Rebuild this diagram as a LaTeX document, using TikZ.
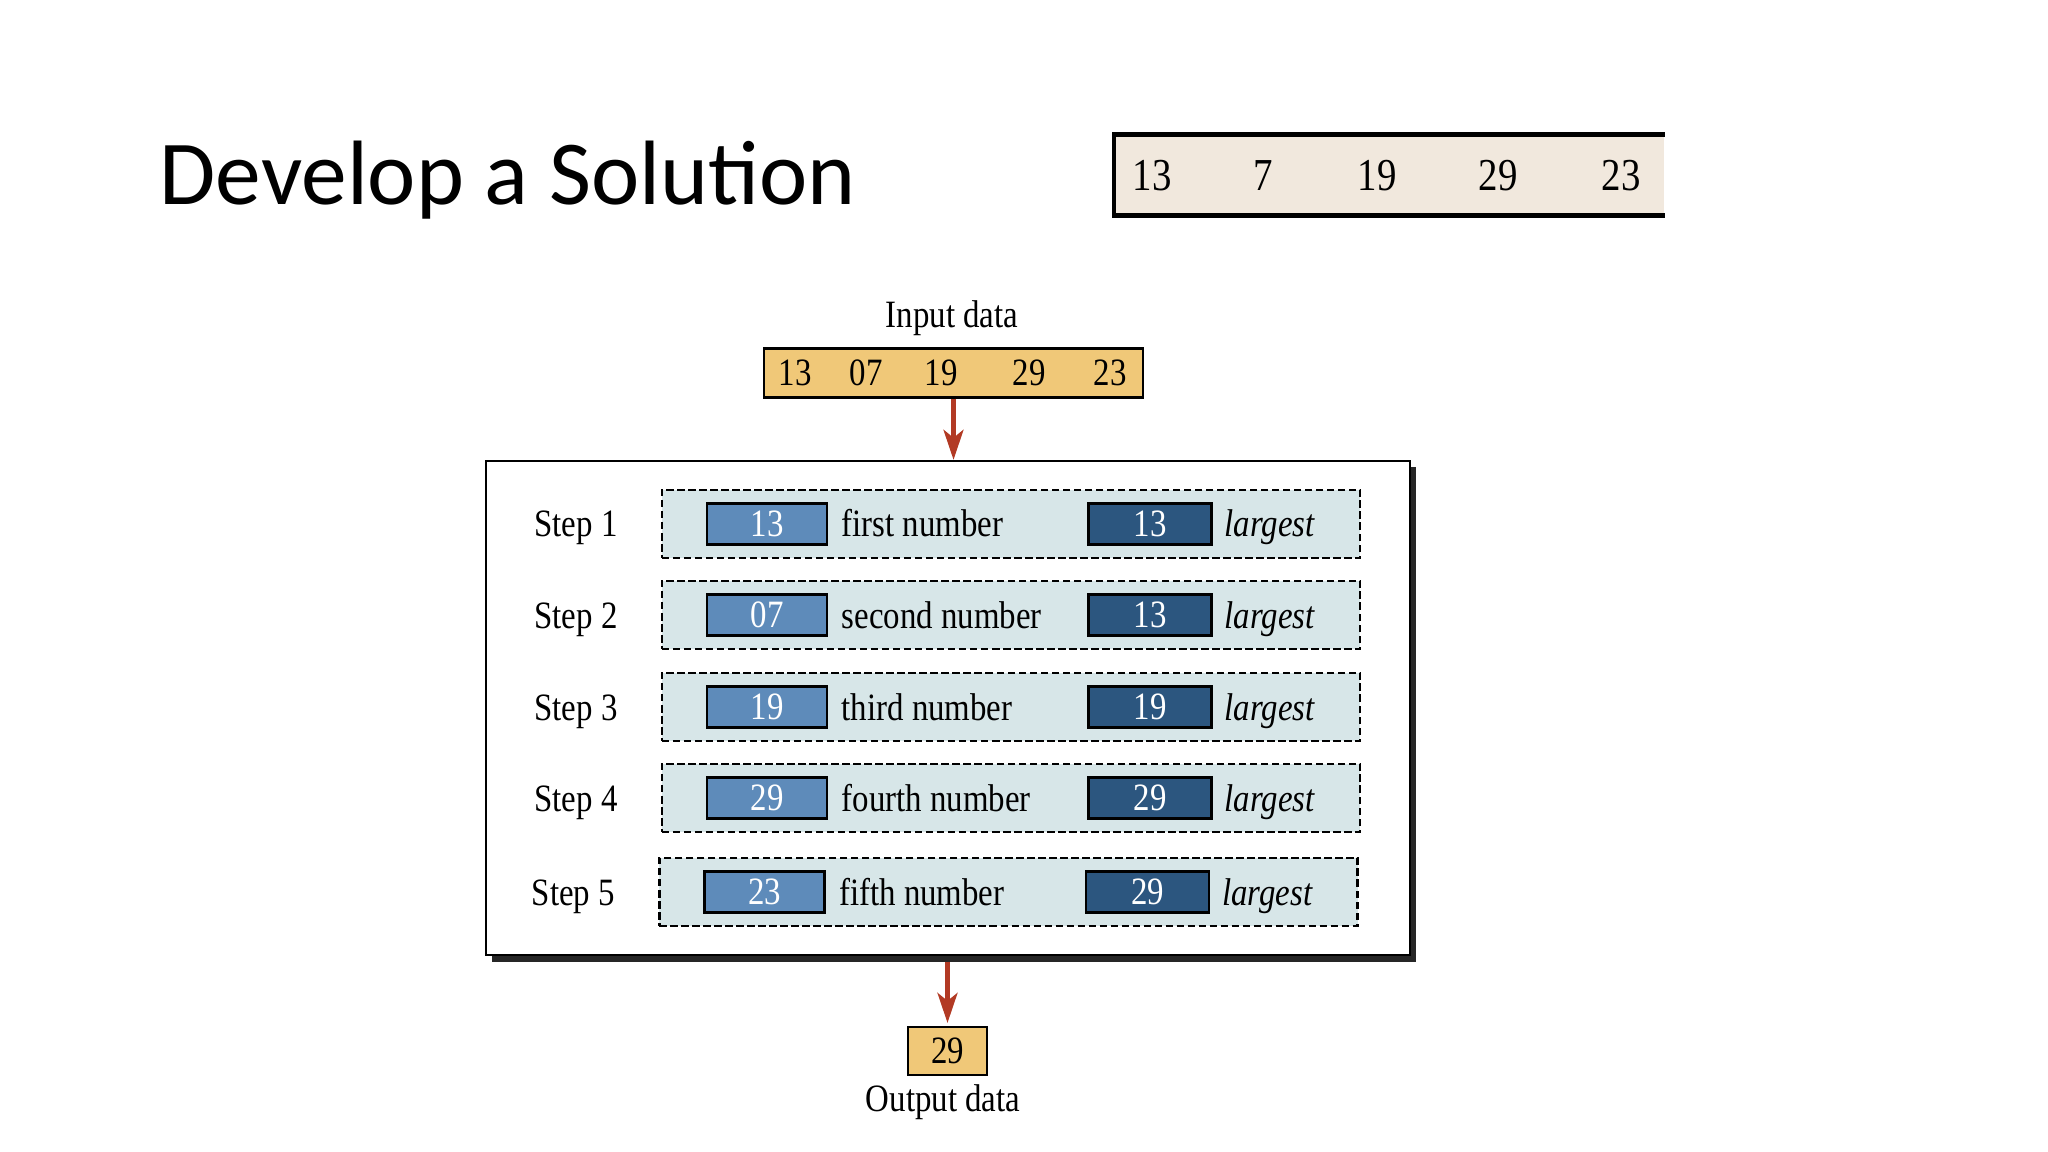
\documentclass[tikz,border=0pt]{standalone}
\usepackage{fontspec}
\setmainfont{Liberation Serif}[FakeStretch=0.85]
\newfontfamily\titlefont{Carlito}
\usetikzlibrary{arrows.meta}
\definecolor{beige}{HTML}{F1E8DD}
\definecolor{gold}{HTML}{F0C878}
\definecolor{rowfill}{HTML}{D7E6E8}
\definecolor{lightblue}{HTML}{5E8BBA}
\definecolor{darkblue}{HTML}{2C567F}
\definecolor{arrowred}{HTML}{B23A24}
\begin{document}
\begin{tikzpicture}[x=0.01cm,y=-0.01cm,
  txt/.style={font=\fontsize{11}{13}\selectfont, inner sep=0pt},
  bigtxt/.style={font=\fontsize{13}{15}\selectfont, inner sep=0pt},
  rowbox/.style={draw, dash pattern=on 0.075cm off 0.035cm, line width=0.7pt, fill=rowfill, minimum width=6.98cm, minimum height=0.68cm, inner sep=0pt},
  numbox/.style={draw, line width=0.6pt, minimum height=0.41cm, inner sep=0pt, text=white, font=\fontsize{11}{13}\selectfont},
  curbox/.style={numbox, fill=lightblue, minimum width=1.20cm},
  maxbox/.style={numbox, fill=darkblue, minimum width=1.23cm},
  goldbox/.style={draw, line width=0.6pt, fill=gold, inner sep=0pt},
  flow/.style={draw=arrowred, line width=1.2pt, -{Stealth[length=0.30cm,width=0.20cm,inset=0.08cm]}}
]
\useasboundingbox (0,0) rectangle (2048,1152);
% title
\node[anchor=base west, inner sep=0pt, font=\titlefont\fontsize{26}{30}\selectfont] (title) at (159,205) {Develop a Solution};
% top right array
\node[fill=beige, minimum width=5.49cm, minimum height=0.80cm, inner sep=0pt] (arr) at (1389.5,175) {};
\draw[line width=1.3pt] (arr.north east) -- (arr.north west) -- (arr.south west) -- (arr.south east);
\node[bigtxt] (a1) at (1152,176) {13};
\node[bigtxt] (a2) at (1263,176) {7};
\node[bigtxt] (a3) at (1377,176) {19};
\node[bigtxt] (a4) at (1498,176) {29};
\node[bigtxt] (a5) at (1621,176) {23};
% input
\node[txt, anchor=base] (inlabel) at (952,328) {Input data};
\node[goldbox, minimum width=3.79cm, minimum height=0.49cm] (inp) at (953.5,373) {};
\node[txt] (i1) at (795,373) {13};
\node[txt] (i2) at (866,373) {07};
\node[txt] (i3) at (941,373) {19};
\node[txt] (i4) at (1029,373) {29};
\node[txt] (i5) at (1110,373) {23};
% frame with shadow
\fill[black!85] (492,467) rectangle (1416,962);
\node[draw, fill=white, line width=0.6pt, minimum width=9.24cm, minimum height=4.94cm, inner sep=0pt] (frame) at (948,708) {};
\draw[flow] (inp.south) -- (inp.south |- frame.north);
% rows
\foreach \i/\y/\dx/\a/\w/\b in {1/524/0/13/first/13, 2/615/0/07/second/13, 3/707/0/19/third/19, 4/798/0/29/fourth/29, 5/892/-2.5/23/fifth/29}{
  \node[txt, anchor=base] (step\i) at (576+\dx,\y+13) {Step \i};
  \node[rowbox] (row\i) at (1011+\dx,\y) {};
  \node[curbox] (cur\i) at (767+\dx,\y) {\a};
  \node[txt, anchor=base west] (lab\i) at (841+\dx,\y+13) {\w\ number};
  \node[maxbox] (max\i) at (1150+\dx,\y) {\b};
  \node[txt, anchor=base west] (lg\i) at (1224+\dx,\y+13) {\itshape largest};
}
% output
\node[goldbox, minimum width=0.79cm, minimum height=0.48cm, font=\fontsize{11}{13}\selectfont] (out) at (947.5,1051) {29};
\coordinate (fb) at (947.5,962);
\draw[flow, shorten >=0.03cm] (fb) -- (out.north);
\node[txt, anchor=base] (outlabel) at (943,1111) {Output data};
\end{tikzpicture}
\end{document}
